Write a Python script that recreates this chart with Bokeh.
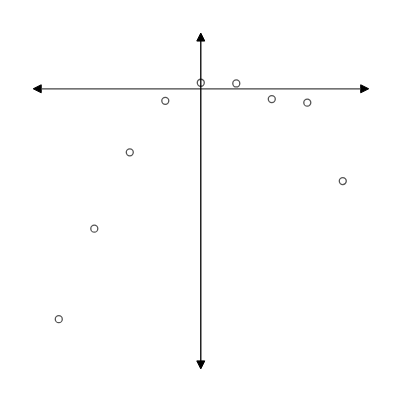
from bokeh.plotting import figure
from bokeh.models import Arrow, NormalHead, Range1d
from bokeh.embed import file_html
from bokeh.resources import INLINE

# data (units: x steps, y at equal scale)
xs = [-4, -3, -2, -1, 0, 1, 2, 3, 4]
ys = [-6.49, -3.94, -1.79, -0.34, 0.17, 0.15, -0.29, -0.39, -2.60]

p = figure(width=384, height=384, output_backend="svg", toolbar_location=None,
           x_range=Range1d(-5.642, 5.175), y_range=Range1d(-8.330, 2.487),
           min_border=0)
p.axis.visible = False
p.grid.visible = False
p.outline_line_color = None
p.background_fill_color = "white"
p.border_fill_color = "white"

# horizontal axis with arrows both ends
p.add_layout(Arrow(x_start=-4.72, y_start=0, x_end=4.73, y_end=0,
                   line_color="#444444", line_width=1.3,
                   start=NormalHead(size=8, fill_color="black", line_color="black", line_width=1),
                   end=NormalHead(size=8, fill_color="black", line_color="black", line_width=1)))
# vertical axis with arrows both ends
p.add_layout(Arrow(x_start=0, y_start=-7.89, x_end=0, y_end=1.57,
                   line_color="black", line_width=1.3,
                   start=NormalHead(size=8, fill_color="black", line_color="black", line_width=1),
                   end=NormalHead(size=8, fill_color="black", line_color="black", line_width=1)))

p.scatter(xs, ys, marker="circle", size=7, fill_color=None,
          line_color="#555555", line_width=1.3)

open("out.html", "w").write(file_html(p, INLINE))
